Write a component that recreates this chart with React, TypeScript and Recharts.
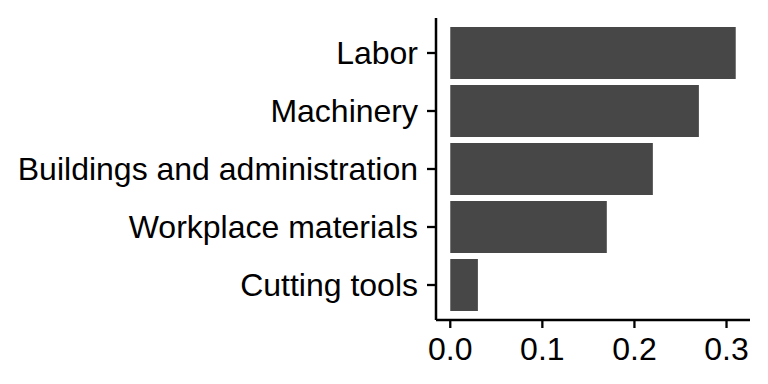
import { BarChart, Bar, XAxis, YAxis } from 'recharts'

const categories = ['Labor', 'Machinery', 'Buildings and administration', 'Workplace materials', 'Cutting tools']
const shares = [0.31, 0.27, 0.22, 0.17, 0.03]
const xTicks = [0, 0.1, 0.2, 0.3]

const data = categories.map((name, i) => ({ name, share: shares[i] }))

const font = { fontSize: 32, fontFamily: '"Liberation Sans", Arial, sans-serif', fill: '#000' }

export default function App() {
  return (
    <div style={{ position: 'absolute', left: 0, top: 0, background: '#fff' }}>
      <BarChart
        width={768}
        height={384}
        layout="vertical"
        data={data}
        margin={{ top: 18, right: 18, left: 0, bottom: 0 }}
      >
        <XAxis
          type="number"
          domain={[-0.0155, 0.3255]}
          allowDataOverflow
          ticks={xTicks}
          tickFormatter={v => v.toFixed(1)}
          height={64}
          tick={font}
          tickSize={8}
          tickMargin={9}
          axisLine={{ stroke: '#000', strokeWidth: 2.5 }}
          tickLine={{ stroke: '#000', strokeWidth: 2.3 }}
        />
        <YAxis
          type="category"
          dataKey="name"
          width={436}
          padding={{ top: 6, bottom: 6 }}
          tick={font}
          tickSize={9}
          tickMargin={9}
          axisLine={{ stroke: '#000', strokeWidth: 2.5 }}
          tickLine={{ stroke: '#000', strokeWidth: 2.3 }}
        />
        <Bar dataKey="share" fill="#474747" barSize={52} isAnimationActive={false} />
      </BarChart>
    </div>
  )
}
